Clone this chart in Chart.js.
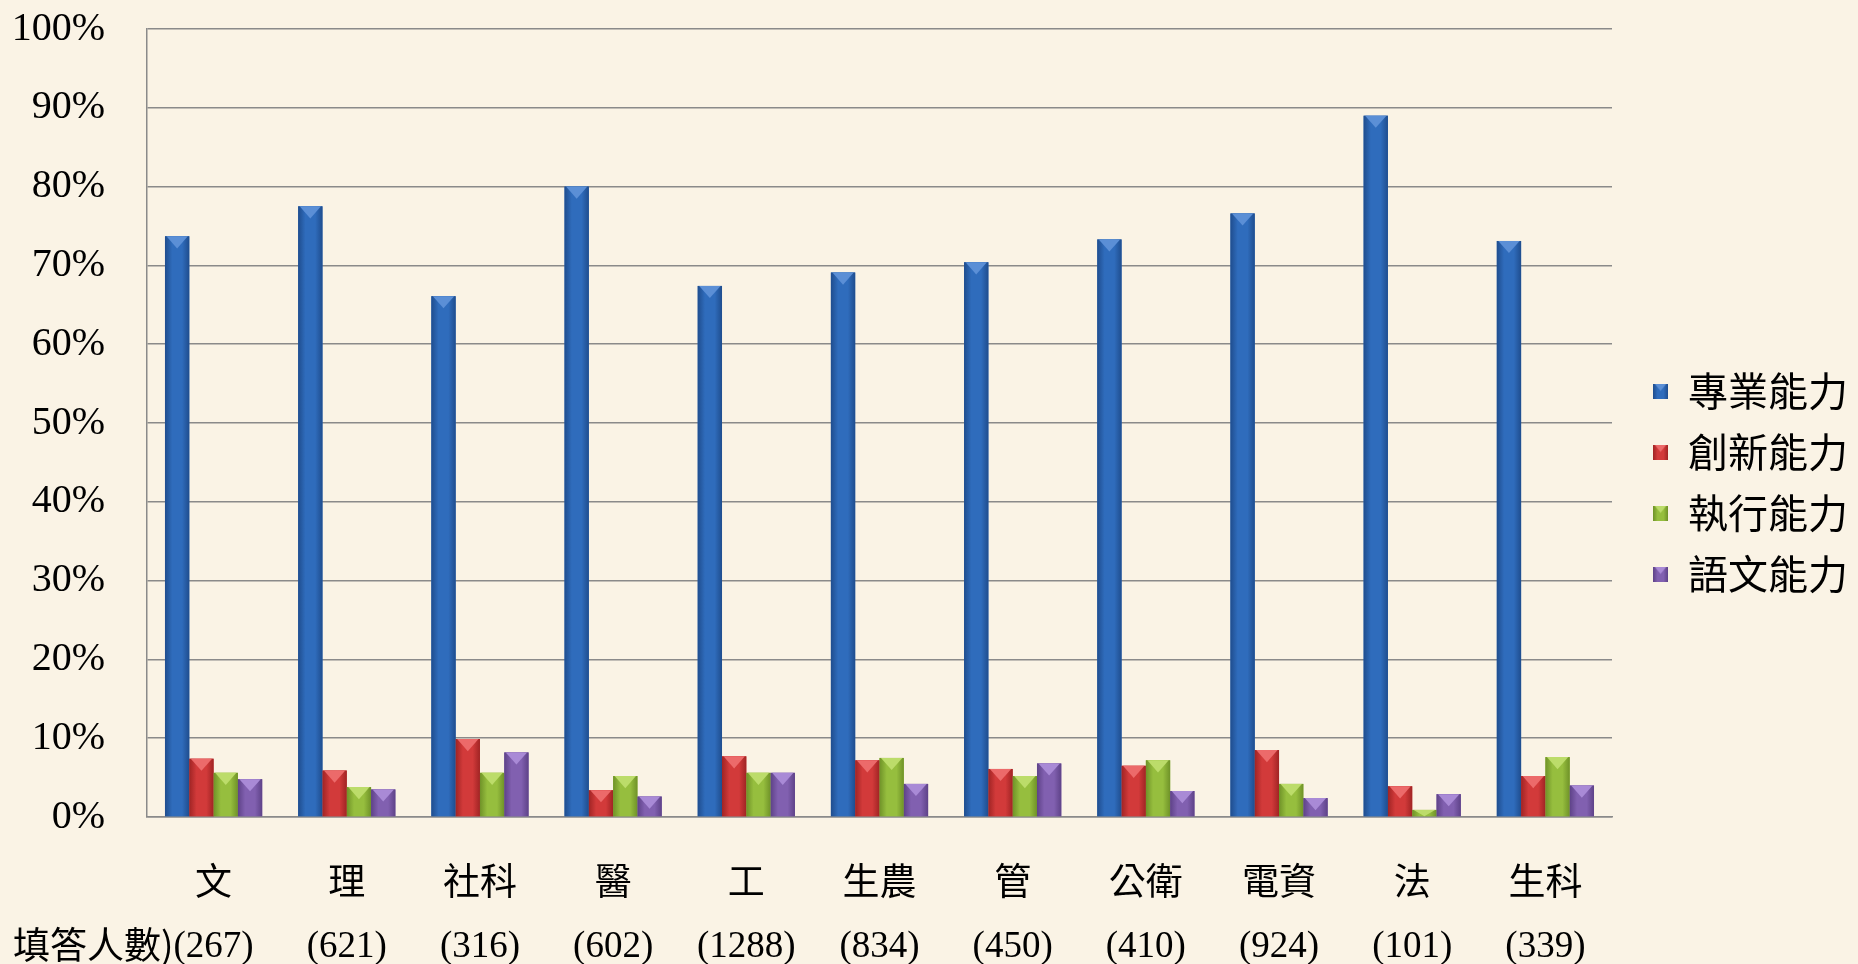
<!DOCTYPE html>
<html>
<head>
<meta charset="utf-8">
<script src="https://cdn.jsdelivr.net/npm/chart.js@4/dist/chart.umd.min.js"></script>
<style>
  html, body { margin: 0; padding: 0; background: #faf3e5; }
  #wrap { width: 1858px; height: 964px; position: relative; }
</style>
</head>
<body>
<div id="wrap"><canvas id="abilityChart"></canvas></div>
<script>
const categories = ["文", "理", "社科", "醫", "工", "生農", "管", "公衛", "電資", "法", "生科"];
const respondents = [267, 621, 316, 602, 1288, 834, 450, 410, 924, 101, 339];
const yTicks = [0, 10, 20, 30, 40, 50, 60, 70, 80, 90, 100];

const professional = [73.7, 77.5, 66.1, 80.0, 67.4, 69.1, 70.4, 73.3, 76.6, 89.0, 73.1];
const innovation = [7.4, 5.9, 9.9, 3.4, 7.7, 7.2, 6.1, 6.5, 8.5, 3.9, 5.2];
const execution = [5.6, 3.8, 5.6, 5.2, 5.6, 7.5, 5.2, 7.2, 4.2, 0.9, 7.6];
const language = [4.8, 3.5, 8.2, 2.6, 5.6, 4.2, 6.8, 3.3, 2.4, 2.9, 4.0];

const seriesNames = ["專業能力", "創新能力", "執行能力", "語文能力"];
// base, dark edge, light top
const palette = [
  ["#2f6cbc", "#1f4d8e", "#5b8fd6"],
  ["#d23a3a", "#a02424", "#ec6a6a"],
  ["#96be3e", "#6f9228", "#bcdc6a"],
  ["#8160b0", "#5e4288", "#a98ad6"]
];

function paintBevel(c, l, top, w, h, colors) {
  const [base, dark, light] = colors;
  const r = l + w;
  const g = c.createLinearGradient(l, 0, r, 0);
  g.addColorStop(0, dark);
  g.addColorStop(0.3, base);
  g.addColorStop(0.7, base);
  g.addColorStop(1, dark);
  c.fillStyle = g;
  c.fillRect(l, top, w, h);
  const tri = Math.min(w / 2, h);
  c.fillStyle = light;
  c.beginPath();
  c.moveTo(l + 1.5, top);
  c.lineTo(r - 1.5, top);
  c.lineTo(l + w / 2, top + tri);
  c.closePath();
  c.fill();
}

// small bevelled squares for the legend
const legendBoxes = palette.map(p => {
  const cv = document.createElement("canvas");
  cv.width = 15;
  cv.height = 15;
  paintBevel(cv.getContext("2d"), 0, 0, 15, 15, p);
  return cv;
});

const bevel = {
  id: "bevel",
  afterDatasetsDraw(chart) {
    const ctx = chart.ctx;
    chart.data.datasets.forEach((ds, i) => {
      chart.getDatasetMeta(i).data.forEach(bar => {
        const p = bar.getProps(["x", "y", "base", "width"], true);
        const h = p.base - p.y;
        if (h <= 0) return;
        ctx.save();
        paintBevel(ctx, p.x - p.width / 2, p.y, p.width, h, palette[i]);
        ctx.restore();
      });
    });
  }
};

// nudge the legend block up a little, like the original slide
const legendNudge = {
  id: "legendNudge",
  afterLayout(chart) {
    chart.legend.top -= 14;
    chart.legend.bottom -= 14;
  }
};

// leftover text of the count row label
const countCaption = {
  id: "countCaption",
  afterDraw(chart) {
    const ctx = chart.ctx;
    const xs = chart.scales.x;
    ctx.save();
    ctx.font = "37px 'Liberation Serif', 'Noto Sans CJK TC'";
    const w = ctx.measureText("(" + respondents[0] + ")").width;
    ctx.font = "37px 'Noto Sans CJK TC'";
    ctx.fillStyle = "#000";
    ctx.textAlign = "right";
    ctx.textBaseline = "middle";
    ctx.fillText("填答人數)", xs.getPixelForValue(0) - w / 2, 945);
    ctx.restore();
  }
};

const ctx = document.getElementById("abilityChart").getContext("2d");
const chart = new Chart(ctx, {
  type: "bar",
  data: {
    labels: categories.map((c, i) => [c, "(" + respondents[i] + ")"]),
    datasets: [professional, innovation, execution, language].map((d, i) => ({
      label: seriesNames[i],
      data: d,
      backgroundColor: palette[i][0],
      borderWidth: 0
    }))
  },
  options: {
    responsive: true,
    maintainAspectRatio: false,
    animation: false,
    categoryPercentage: 0.73,
    barPercentage: 1,
    layout: {padding: {left: 10, top: 29, right: 0, bottom: 0}},
    scales: {
      y: {
        min: 0,
        max: 100,
        afterBuildTicks: s => { s.ticks = yTicks.map(v => ({value: v})); },
        afterFit: s => { s.width = 137; s.paddingTop = 0; s.paddingBottom = 0; },
        ticks: {
          color: "#000",
          padding: 42,
          font: {family: "'Liberation Serif'", size: 40},
          callback: v => v + "%"
        },
        grid: {color: "#8a8a8a", lineWidth: 1.5, drawTicks: false},
        border: {color: "#8a8a8a", width: 1.5}
      },
      gap: {
        position: "right",
        min: 0,
        max: 100,
        afterFit: s => { s.width = 20; },
        ticks: {display: false},
        grid: {display: false, drawTicks: false},
        border: {display: false}
      },
      x: {
        afterFit: s => { s.height = 147; },
        ticks: {
          color: "#000",
          padding: 37,
          maxRotation: 0,
          autoSkip: false,
          font: {family: "'Liberation Serif', 'Noto Sans CJK TC'", size: 37, lineHeight: 1.68}
        },
        grid: {display: false, drawTicks: false},
        border: {color: "#8a8a8a", width: 1.5}
      }
    },
    plugins: {
      legend: {
        position: "right",
        labels: {
          color: "#000",
          boxWidth: 15,
          boxHeight: 15,
          padding: 21,
          usePointStyle: true,
          font: {family: "'Noto Sans CJK TC'", size: 40},
          generateLabels: c => Chart.defaults.plugins.legend.labels.generateLabels(c)
            .map((item, i) => Object.assign(item, {pointStyle: legendBoxes[i]}))
        }
      },
      tooltip: {enabled: false}
    }
  },
  plugins: [bevel, legendNudge, countCaption]
});
</script>
</body>
</html>
